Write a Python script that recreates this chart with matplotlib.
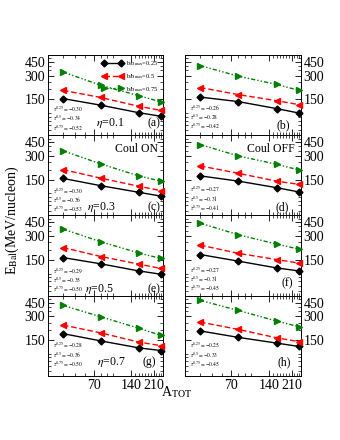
import matplotlib
matplotlib.use('Agg')
import matplotlib.pyplot as plt
from matplotlib.ticker import FixedLocator, NullFormatter, FixedFormatter

plt.rcParams['font.family'] = ['Liberation Serif', 'DejaVu Serif']
plt.rcParams['mathtext.fontset'] = 'stix'

# system sizes
a_tot = [40, 80, 160, 240]

# balance energies (MeV/nucleon) for b/bmax = 0.25, 0.5, 0.75 in each panel
e_a = [[153, 126, 101, 91], [195, 158, 122, 108], [335, 226, 167, 139]]
e_b = [[160, 140, 114, 100], [212, 172, 144, 128], [404, 296, 232, 195]]
e_c = [[155, 125, 103, 92], [201, 156, 123, 108], [350, 237, 167, 143]]
e_d = [[167, 143, 118, 104], [224, 180, 143, 130], [420, 300, 235, 199]]
e_e = [[160, 133, 108, 98], [215, 165, 132, 116], [370, 255, 183, 156]]
e_f = [[175, 144, 118, 108], [231, 181, 151, 136], [441, 313, 238, 205]]
e_g = [[181, 146, 119, 110], [233, 185, 141, 127], [416, 297, 212, 172]]
e_h = [[196, 162, 137, 124], [254, 205, 160, 143], [482, 358, 262, 222]]

panels = [e_a, e_b, e_c, e_d, e_e, e_f, e_g, e_h]
panel_tags = ['(a)', '(b)', '(c)', '(d)', '(e)', '(f)', '(g)', '(h)']
etas = ['0.1', None, '0.3', None, '0.5', None, '0.7', None]
taus = [['-0.30', '-0.34', '-0.52'], ['-0.26', '-0.28', '-0.42'],
        ['-0.30', '-0.36', '-0.53'], ['-0.27', '-0.31', '-0.41'],
        ['-0.29', '-0.35', '-0.50'], ['-0.27', '-0.31', '-0.45'],
        ['-0.28', '-0.36', '-0.50'], ['-0.25', '-0.33', '-0.45']]
b_frac = ['0.25', '0.5', '0.75']

colors = ['black', 'red', 'green']
markers = ['D', '<', '>']
styles = ['-', (0, (4, 2)), (0, (3, 1.5, 1, 1.5, 1, 1.5))]
msizes = [3.5, 5, 5]

fig = plt.figure(figsize=(3.4, 4.4), dpi=100)

col_left = [0.141, 0.544]
col_w = [0.338, 0.341]
top = 0.875
bottom = 0.1455
ph = (top - bottom) / 4

# text positions (axes fraction) per panel
eta_pos = [(0.54, 0.15), None, (0.46, 0.10), None, (0.45, 0.085), None, (0.55, 0.17), None]
tag_pos = [(0.92, 0.15), (0.845, 0.125), (0.92, 0.10), (0.84, 0.10),
           (0.92, 0.085), (0.88, 0.15), (0.88, 0.17), (0.86, 0.17)]
tau_y = [(0.33, 0.21, 0.09), (0.34, 0.225, 0.11), (0.31, 0.195, 0.08), (0.325, 0.21, 0.095),
         (0.31, 0.195, 0.08), (0.325, 0.21, 0.095), (0.38, 0.265, 0.15), (0.38, 0.265, 0.15)]

for k, data in enumerate(panels):
    row, col = divmod(k, 2)
    ax = fig.add_axes([col_left[col], top - (row + 1) * ph, col_w[col], ph])
    for j in range(3):
        ax.plot(a_tot, data[j], color=colors[j], linestyle=styles[j], marker=markers[j],
                markersize=msizes[j], linewidth=1.0, clip_on=False, zorder=3,
                label='b/b$_{\\rm max}$=' + b_frac[j])
    ax.set_xscale('log')
    ax.set_yscale('log')
    ax.set_xlim(30.4, 249)
    ax.set_ylim(52, 552)
    ax.xaxis.set_major_locator(FixedLocator([70, 140, 210]))
    ax.xaxis.set_minor_locator(FixedLocator([40, 50, 60, 80, 90, 100, 150, 160, 170, 180, 190, 200, 220, 230, 240]))
    ax.yaxis.set_major_locator(FixedLocator([150, 300, 450]))
    ax.yaxis.set_minor_locator(FixedLocator([60, 70, 80, 90, 100, 200, 250, 350, 400, 500]))
    ax.xaxis.set_minor_formatter(NullFormatter())
    ax.yaxis.set_minor_formatter(NullFormatter())
    ax.xaxis.set_major_formatter(FixedFormatter(['70', '140', '210']))
    ax.yaxis.set_major_formatter(FixedFormatter(['150', '300', '450']))
    ax.tick_params(which='both', direction='in', top=True, right=True, labelsize=10, pad=2)
    ax.tick_params(which='major', length=4, width=0.6)
    ax.tick_params(which='minor', length=2, width=0.5)
    if row < 3:
        ax.tick_params(labelbottom=False)
    if col == 1:
        ax.tick_params(labelleft=False, labelright=True)
    for sp in ax.spines.values():
        sp.set_linewidth(0.7)

    for j in range(3):
        ax.text(0.04, tau_y[k][j], '$\\tau^{' + b_frac[j] + '}=' + taus[k][j] + '$',
                transform=ax.transAxes, fontsize=4, va='center', ha='left')
    if eta_pos[k] is not None:
        ax.text(eta_pos[k][0], eta_pos[k][1], '$\\eta$=' + etas[k], transform=ax.transAxes,
                fontsize=8.5, ha='center', va='center')
    ax.text(tag_pos[k][0], tag_pos[k][1], panel_tags[k], transform=ax.transAxes,
            fontsize=8.5, ha='center', va='center')
    if k == 0:
        ax.legend(loc='upper right', frameon=False, fontsize=4.5, handlelength=3.4,
                  numpoints=2, borderaxespad=0.3, labelspacing=0.6, handletextpad=0.5)
    if k == 2:
        ax.text(0.77, 0.825, 'Coul ON', transform=ax.transAxes, fontsize=8.5, ha='center', va='center')
    if k == 3:
        ax.text(0.74, 0.825, 'Coul OFF', transform=ax.transAxes, fontsize=8.5, ha='center', va='center')

fig.text(0.035, 0.5, 'E$_{\\rm Bal}$(MeV/nucleon)', rotation=90, fontsize=10, ha='center', va='center')
fig.text(0.52, 0.108, 'A$_{\\rm TOT}$', fontsize=10, ha='center', va='center')

fig.savefig('out.png', dpi=100)
